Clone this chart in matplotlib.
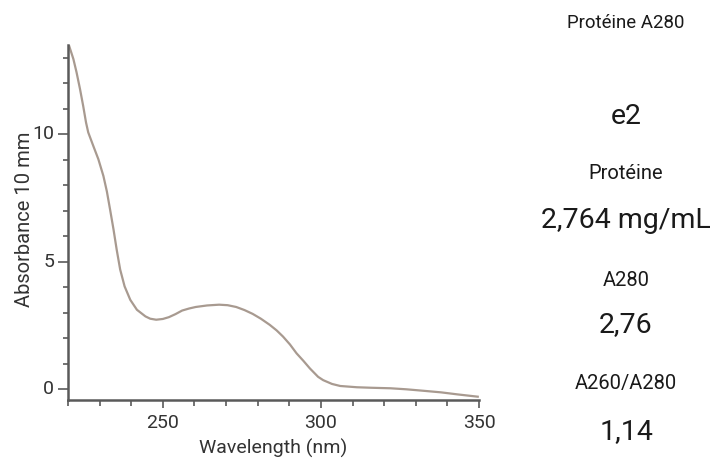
import numpy as np
import matplotlib
matplotlib.use('Agg')
import matplotlib.pyplot as plt
from matplotlib.ticker import MultipleLocator

plt.rcParams['font.family'] = ['Roboto', 'DejaVu Sans']

# spectrum
wavelength = [220.4, 221.7, 222.7, 223.8, 224.8, 225.7, 226.4, 228.0, 229.6,
              231.2, 232.3, 233.3, 234.4, 235.4, 236.5, 237.9, 239.7, 241.8,
              244.5, 246.0, 247.9, 250.0, 251.9, 254.0, 256.1, 258.3, 260.4,
              264.0, 267.8, 270.5, 273.2, 275.8, 278.4, 281.0, 283.8, 286.0,
              288.0, 290.2, 292.3, 294.5, 296.5, 299.1, 300.7, 303.5, 306.1,
              311.4, 316.0, 322.0, 327.0, 332.6, 338.0, 343.2, 349.6]
absorbance = [13.45, 12.95, 12.43, 11.77, 11.11, 10.46, 10.07, 9.54, 9.02,
              8.36, 7.75, 7.05, 6.26, 5.47, 4.69, 4.03, 3.50, 3.11,
              2.85, 2.76, 2.72, 2.75, 2.82, 2.94, 3.08, 3.16, 3.22,
              3.28, 3.31, 3.29, 3.22, 3.10, 2.95, 2.76, 2.52, 2.30,
              2.06, 1.75, 1.40, 1.10, 0.81, 0.48, 0.35, 0.20, 0.12,
              0.07, 0.05, 0.03, -0.01, -0.07, -0.13, -0.21, -0.30]

# results panel
panel_labels = ['Protéine A280', 'e2', 'Protéine', '2,764 mg/mL', 'A280', '2,76', 'A260/A280', '1,14']
panel_sizes = [13.4, 20.5, 14.5, 20.5, 14.5, 20.5, 14.5, 20.5]
panel_y = [23, 117, 173, 220, 280, 325, 383, 432]

axis_col = '#5a5a5a'
line_col = '#a89a90'
text_col = '#333333'

fig = plt.figure(figsize=(7.1, 4.65), dpi=100)
ax = fig.add_axes([68/710, 1-400/465, (479-68)/710, (400-45)/465])
ax.plot(wavelength, absorbance, color=line_col, lw=1.6, solid_joinstyle='round')

ax.set_xlim(220, 350)
ax.set_ylim(-0.43, 13.5)
ax.spines['top'].set_visible(False)
ax.spines['right'].set_visible(False)
for s in ['left', 'bottom']:
    ax.spines[s].set_color(axis_col)
    ax.spines[s].set_linewidth(1.8)

ax.xaxis.set_major_locator(MultipleLocator(50))
ax.xaxis.set_minor_locator(MultipleLocator(10))
ax.yaxis.set_major_locator(MultipleLocator(5))
ax.yaxis.set_minor_locator(MultipleLocator(1))
ax.tick_params(axis='x', which='major', length=6, width=1.2, color=axis_col, labelsize=14, pad=4)
ax.tick_params(axis='x', which='minor', length=4.5, width=1.2, color=axis_col)
ax.tick_params(axis='y', which='major', length=7, width=1.2, color=axis_col, labelsize=14, pad=3)
ax.tick_params(axis='y', which='minor', length=3.5, width=1.2, color=axis_col)
ax.set_yticks([0, 5, 10])
ax.set_yticklabels(['0', '5', '10'], va='center')
ax.tick_params(labelcolor=text_col)

ax.set_xlabel('Wavelength (nm)', fontsize=14, color=text_col, labelpad=5)
ax.set_ylabel('Absorbance 10 mm', fontsize=14.5, color=text_col)
ax.yaxis.set_label_coords(-0.082, 0.51)

for lab, fs, yp in zip(panel_labels, panel_sizes, panel_y):
    fig.text(626/710, 1-yp/465, lab, fontsize=fs, ha='center', va='center', color='#1a1a1a')

fig.savefig('out.png', dpi=100)
